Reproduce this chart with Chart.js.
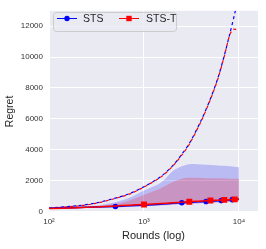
<!DOCTYPE html>
<html>
<head>
<meta charset="utf-8">
<script src="https://cdn.jsdelivr.net/npm/chart.js@4/dist/chart.umd.min.js"></script>
<style>
  html, body { margin: 0; padding: 0; background: #fff; }
  canvas { display: block; }
</style>
</head>
<body>
<canvas id="chart" width="266" height="249"></canvas>
<script>
// rounds where the mean regret was logged
var rounds = [100, 200, 300, 500, 700, 1000, 1500, 2000, 2500, 3000, 3500, 4000, 4500, 5000, 6000, 6500, 7000, 8000, 8500, 9000, 10000];
var stsMean = [200, 250, 285, 320, 360, 400, 460, 520, 560, 585, 610, 630, 645, 660, 690, 700, 715, 745, 760, 770, 790];
var stsTMean = [180, 240, 290, 350, 400, 445, 510, 560, 600, 625, 650, 670, 690, 705, 725, 735, 745, 760, 770, 780, 800];
var stsMarks = [500, 2500, 4500, 6500, 8500];
var stsTMarks = [1000, 3000, 5000, 7000, 9000];

// spread of the runs
var bandRounds = [100, 200, 300, 500, 700, 1000, 1500, 2000, 2500, 3000, 4000, 5000, 6000, 7000, 8000, 9000, 10000];
var stsLow = [160, 200, 230, 260, 290, 330, 380, 430, 470, 490, 530, 560, 580, 600, 620, 640, 650];
var stsHigh = [200, 270, 360, 600, 880, 1350, 1850, 2600, 2920, 3060, 3040, 3010, 2980, 2950, 2920, 2890, 2860];
var stsTLow = [150, 195, 235, 280, 320, 360, 410, 450, 490, 510, 550, 580, 600, 620, 630, 640, 660];
var stsTHigh = [200, 250, 320, 480, 700, 1080, 1500, 1900, 2120, 2180, 2170, 2150, 2140, 2130, 2120, 2110, 2100];

// dashed bound curves
var boundRounds = [100, 200, 300, 500, 700, 1000, 1500, 2000, 2500, 3000, 4000, 5000, 6000, 7000, 8000, 9000, 10000];
var stsBound = [220, 370, 520, 860, 1150, 1600, 2250, 2950, 3700, 4400, 5900, 7300, 8650, 10100, 11500, 12800, 14100];
var boundTRounds = [100, 200, 300, 500, 700, 1000, 1500, 2000, 2500, 3000, 4000, 5000, 6000, 7000, 8000, 8700, 9000, 10000];
var stsTBound = [200, 350, 500, 840, 1120, 1580, 2220, 2920, 3650, 4350, 5850, 7250, 8600, 10050, 11450, 11800, 11800, 11800];

var xTickValues = [100, 1000, 10000];
var xTickLabels = ['10²', '10³', '10⁴'];
var yTickValues = [0, 2000, 4000, 6000, 8000, 10000, 12000];

var BG = '#EAEAF2';
var FONT = "'Liberation Sans', Arial, sans-serif";

function pts(xs, ys) {
  return xs.map(function(x, i) { return { x: x, y: ys[i] }; });
}

function markAt(list, r) {
  return function(c) {
    return c.raw && list.indexOf(c.raw.x) >= 0 ? r : 0;
  };
}

var bgPlugin = {
  id: 'bg',
  beforeDraw: function(chart) {
    var a = chart.chartArea, g = chart.ctx;
    g.save();
    g.fillStyle = '#fff';
    g.fillRect(0, 0, chart.width, chart.height);
    g.fillStyle = BG;
    g.fillRect(a.left, a.top, a.right - a.left, a.bottom - a.top);
    g.restore();
  }
};

var legendPlugin = {
  id: 'legendBox',
  afterDraw: function(chart) {
    var g = chart.ctx;
    g.save();
    var x0 = 53.5, y0 = 12.5, w = 123, h = 19, r = 3;
    g.beginPath();
    g.moveTo(x0 + r, y0);
    g.arcTo(x0 + w, y0, x0 + w, y0 + h, r);
    g.arcTo(x0 + w, y0 + h, x0, y0 + h, r);
    g.arcTo(x0, y0 + h, x0, y0, r);
    g.arcTo(x0, y0, x0 + w, y0, r);
    g.closePath();
    g.fillStyle = 'rgba(234,234,242,0.8)';
    g.fill();
    g.strokeStyle = '#cccccc';
    g.lineWidth = 1;
    g.stroke();

    var items = [
      { text: 'STS', color: '#0000ff', lx: 57, tx: 83, style: 'circle' },
      { text: 'STS-T', color: '#ff0000', lx: 119, tx: 146, style: 'rect' }
    ];
    var ly = 18.5;
    items.forEach(function(it) {
      g.strokeStyle = it.color;
      g.lineWidth = 1;
      g.beginPath();
      g.moveTo(it.lx, ly);
      g.lineTo(it.lx + 20, ly);
      g.stroke();
      g.fillStyle = it.color;
      g.beginPath();
      if (it.style === 'circle') {
        g.arc(it.lx + 10, ly, 2.7, 0, Math.PI * 2);
      } else {
        g.rect(it.lx + 7.3, ly - 2.7, 5.4, 5.4);
      }
      g.fill();
      g.fillStyle = '#262626';
      g.font = '10.5px ' + FONT;
      g.textBaseline = 'middle';
      g.fillText(it.text, it.tx, ly + 0.5);
    });
    g.restore();
  }
};

var ctx = document.getElementById('chart');
var chart = new Chart(ctx, {
  type: 'line',
  data: {
    datasets: [
      {
        label: 'STS-T',
        data: pts(rounds, stsTMean),
        borderColor: '#ff0000',
        backgroundColor: '#ff0000',
        borderWidth: 1.5,
        pointStyle: 'rect',
        pointRadius: markAt(stsTMarks, 4.2),
        pointBorderWidth: 0,
        fill: false,
        order: 0
      },
      {
        label: 'STS',
        data: pts(rounds, stsMean),
        borderColor: '#0000ff',
        backgroundColor: '#0000ff',
        borderWidth: 1.5,
        pointStyle: 'circle',
        pointRadius: markAt(stsMarks, 2.8),
        pointBorderWidth: 0,
        fill: false,
        order: 1
      },
      {
        label: 'STS-T bound',
        data: pts(boundTRounds, stsTBound),
        borderColor: '#ff0000',
        borderWidth: 1.2,
        borderDash: [3, 3],
        borderDashOffset: 3,
        pointRadius: 0,
        fill: false,
        order: 2
      },
      {
        label: 'STS bound',
        data: pts(boundRounds, stsBound),
        borderColor: '#0000ff',
        borderWidth: 1.2,
        borderDash: [3, 3],
        pointRadius: 0,
        fill: false,
        order: 3
      },
      {
        label: 'STS-T low',
        data: pts(bandRounds, stsTLow),
        borderWidth: 0,
        borderColor: 'rgba(0,0,0,0)',
        pointRadius: 0,
        fill: false,
        order: 5
      },
      {
        label: 'STS-T high',
        data: pts(bandRounds, stsTHigh),
        borderWidth: 0,
        borderColor: 'rgba(0,0,0,0)',
        backgroundColor: 'rgba(255,0,0,0.2)',
        pointRadius: 0,
        fill: '-1',
        order: 4
      },
      {
        label: 'STS low',
        data: pts(bandRounds, stsLow),
        borderWidth: 0,
        borderColor: 'rgba(0,0,0,0)',
        pointRadius: 0,
        fill: false,
        order: 7
      },
      {
        label: 'STS high',
        data: pts(bandRounds, stsHigh),
        borderWidth: 0,
        borderColor: 'rgba(0,0,0,0)',
        backgroundColor: 'rgba(0,0,255,0.2)',
        pointRadius: 0,
        fill: '-1',
        order: 6
      }
    ]
  },
  options: {
    responsive: false,
    animation: false,
    devicePixelRatio: 1,
    layout: { padding: { top: 7, right: 8, left: 0, bottom: 0 } },
    elements: { line: { tension: 0.3 } },
    plugins: {
      legend: { display: false },
      tooltip: { enabled: false }
    },
    scales: {
      x: {
        type: 'logarithmic',
        min: 100,
        max: 15850,
        border: { display: false },
        grid: { color: '#ffffff', lineWidth: 1, drawTicks: false },
        afterBuildTicks: function(s) {
          s.ticks = xTickValues.map(function(v) { return { value: v }; });
        },
        afterFit: function(s) { s.height = 37; },
        ticks: {
          padding: 5,
          color: '#333',
          font: { family: FONT, size: 8 },
          maxRotation: 0,
          autoSkip: false,
          callback: function(v) {
            var i = xTickValues.indexOf(v);
            return i >= 0 ? xTickLabels[i] : '';
          }
        },
        title: {
          display: true,
          text: 'Rounds (log)',
          color: '#262626',
          font: { family: FONT, size: 11 },
          padding: { top: 0, bottom: 6 }
        }
      },
      y: {
        min: -40,
        max: 13000,
        border: { display: false },
        grid: { color: '#ffffff', lineWidth: 1, drawTicks: false },
        afterBuildTicks: function(s) {
          s.ticks = yTickValues.map(function(v) { return { value: v }; });
        },
        afterFit: function(s) { s.width = 49; },
        ticks: {
          padding: 6,
          color: '#333',
          font: { family: FONT, size: 8 },
          callback: function(v) { return String(v); }
        },
        title: {
          display: true,
          text: 'Regret',
          color: '#262626',
          font: { family: FONT, size: 10.5 },
          padding: { top: 4, bottom: 0 }
        }
      }
    }
  },
  plugins: [bgPlugin, legendPlugin]
});
</script>
</body>
</html>
